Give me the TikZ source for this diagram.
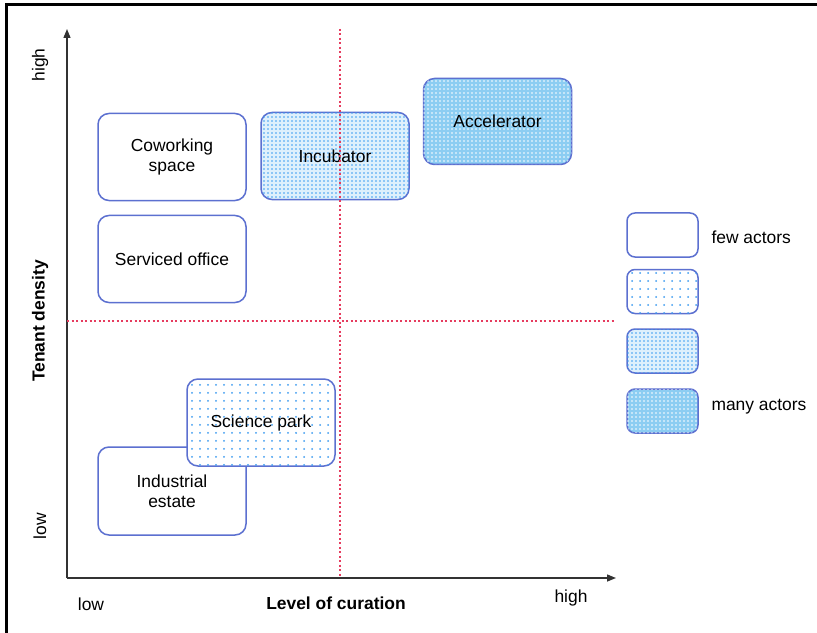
\documentclass[tikz,border=0pt]{standalone}
\usepackage{fontspec}
\setmainfont{Liberation Sans}
\usetikzlibrary{patterns.meta,arrows.meta}
\definecolor{boxblue}{RGB}{92,112,208}
\definecolor{dotblue}{RGB}{60,155,240}
\definecolor{midfill}{RGB}{222,240,252}
\definecolor{densefill}{RGB}{140,205,242}
\definecolor{redline}{RGB}{230,60,95}
\definecolor{axisgray}{RGB}{50,50,50}
\begin{document}
\begin{tikzpicture}[x=1bp,y=-1bp,
  every node/.style={font=\fontsize{17.5}{20}\selectfont},
  box/.style={draw=boxblue, line width=1.5bp, rounded corners=11bp, align=center,
    minimum width=148bp, minimum height=87bp, inner sep=0pt},
  legbox/.style={draw=boxblue, line width=1.5bp, rounded corners=8bp,
    minimum width=71bp, minimum height=44bp, inner sep=0pt},
  plain/.style={fill=white},
  sparse/.style={fill=white, postaction={pattern={Dots[distance=8bp,radius=1bp]}, pattern color=dotblue}},
  medium/.style={fill=midfill, postaction={pattern={Dots[distance=4bp,radius=0.8bp]}, pattern color=dotblue}},
  dense/.style={fill=densefill, postaction={pattern={Dots[distance=4bp,radius=0.9bp]}, pattern color=white}},
  axis/.style={draw=axisgray, line width=1.4bp, -{Triangle[length=9bp,width=7bp]}},
  quad/.style={draw=redline, line width=1.2bp, dash pattern=on 2bp off 2.5bp}
]
\useasboundingbox[fill=white] (0,0) rectangle (817,633);
% frame
\draw[line width=3bp] (6,633) -- (6,5) -- (817,5);

% axes
\coordinate (O) at (67,578);
\coordinate (ytop) at (67,29);
\coordinate (xend) at (616,578);
\draw[axis] (O) -- (ytop);
\draw[axis] (O) -- (xend);

% boxes
\node[box, plain] (cow) at (172,157) {Coworking\\space};
\node[box, plain] (serv) at (172,259) {Serviced office};
\node[box, medium] (inc) at (335,156) {Incubator};
\node[box, dense, minimum height=86bp] (acc) at (497.5,121.5) {Accelerator};
\node[box, plain, minimum height=88bp] (ind) at (172,491) {Industrial\\estate};
\node[box, sparse] (sci) at (261,422.5) {Science park};

% quadrant lines
\coordinate (vt) at (340,29);
\coordinate (vb) at (340,578);
\coordinate (hl) at (67,321);
\coordinate (hr) at (614,321);
\draw[quad] (vt) -- (vb);
\draw[quad] (hl) -- (hr);

% legend
\node[legbox, plain] (l1) at (662.5,235) {};
\node[legbox, sparse] (l2) at (662.5,291.5) {};
\node[legbox, medium] (l3) at (662.5,351) {};
\node[legbox, dense] (l4) at (662.5,411) {};
\node[anchor=west] (few) at (708,237) {few actors};
\node[anchor=west] (many) at (708,407) {many actors};

% axis labels
\node[rotate=90] (yhigh) at (40,65) {high};
\node[rotate=90] (ylow) at (40,526) {low};
\node[rotate=90, font=\fontsize{17.5}{20}\selectfont\bfseries] (ylab) at (40,321) {Tenant density};
\node (xlow) at (91,604) {low};
\node[font=\fontsize{17.5}{20}\selectfont\bfseries] (xlab) at (336,603) {Level of curation};
\node (xhigh) at (571,598) {high};
\end{tikzpicture}
\end{document}
